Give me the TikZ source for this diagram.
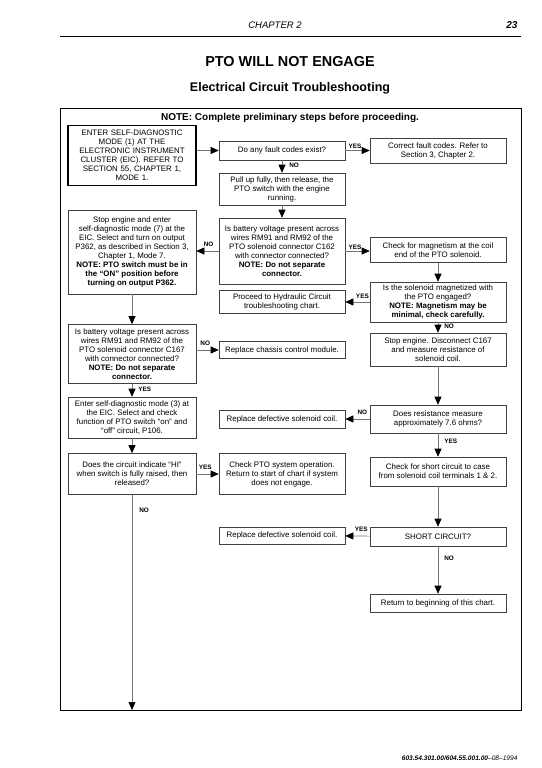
\documentclass[tikz,border=0pt]{standalone}
\usepackage{fontspec}
\setmainfont{Liberation Sans}
\usetikzlibrary{arrows.meta}
\begin{document}
\begin{tikzpicture}[x=1pt,y=-1pt,
  box/.style={draw=black!75, line width=0.6pt, align=center, inner sep=1pt, font=\fontsize{7.9}{9.0}\selectfont},
  thickbox/.style={box, draw=black, line width=1.1pt},
  arr/.style={draw=black!55, line width=0.6pt, -{Triangle[length=8pt,width=7pt,color=black]}},
  lbl/.style={font=\bfseries\fontsize{6.4}{7}\selectfont, inner sep=1pt},
]
\useasboundingbox (0,0) rectangle (541,768);
% header
\node[font=\itshape\fontsize{9.5}{11}\selectfont] (chap) at (275,25) {CHAPTER 2};
\node[font=\bfseries\itshape\fontsize{10}{11}\selectfont, anchor=east] (pg) at (521,25) {23};
\coordinate (rl) at (60,36);
\coordinate (rr) at (521,36);
\draw[line width=0.8pt] (rl) -- (rr);
\node[font=\bfseries\fontsize{14.4}{16}\selectfont] (t1) at (290,62) {PTO WILL NOT ENGAGE};
\node[font=\bfseries\fontsize{12.5}{14}\selectfont] (t2) at (290,88) {Electrical Circuit Troubleshooting};
% frame
\draw[line width=1pt] (60,108) rectangle (521,710);
\node[font=\bfseries\fontsize{10}{12}\selectfont] (note) at (290,117.5) {NOTE: Complete preliminary steps before proceeding.};
% boxes
\node[thickbox, minimum width=128pt, minimum height=60pt, text width=124pt] (b1) at (132,155.5) {ENTER SELF-DIAGNOSTIC\\MODE (1) AT THE\\ELECTRONIC INSTRUMENT\\CLUSTER (EIC). REFER TO\\SECTION 55, CHAPTER 1,\\MODE 1.};
\node[box, minimum width=126pt, minimum height=19pt] (b2) at (282,150.5) {Do any fault codes exist?};
\node[box, minimum width=136pt, minimum height=25pt] (b3) at (438,150.5) {Correct fault codes. Refer to\\Section 3, Chapter 2.};
\node[box, minimum width=126pt, minimum height=32pt] (b4) at (282,189) {Pull up fully, then release, the\\PTO switch with the engine\\running.};
\node[box, minimum width=126pt, minimum height=66pt] (b5) at (282,251) {Is battery voltage present across\\wires RM91 and RM92 of the\\PTO solenoid connector C162\\with connector connected?\\\textbf{NOTE: Do not separate}\\\textbf{connector.}};
\node[box, minimum width=128pt, minimum height=84pt] (b6) at (132,252) {Stop engine and enter\\self-diagnostic mode (7) at the\\EIC. Select and turn on output\\P362, as described in Section 3,\\Chapter 1, Mode 7.\\\textbf{NOTE: PTO switch must be in}\\\textbf{the ``ON'' position before}\\\textbf{turning on output P362.}};
\node[box, minimum width=136pt, minimum height=25pt] (b7) at (438,250) {Check for magnetism at the coil\\end of the PTO solenoid.};
\node[box, minimum width=126pt, minimum height=23pt] (b8) at (282,302) {Proceed to Hydraulic Circuit\\troubleshooting chart.};
\node[box, minimum width=136pt, minimum height=40pt] (b9) at (438,302) {Is the solenoid magnetized with\\the PTO engaged?\\\textbf{NOTE: Magnetism may be}\\\textbf{minimal, check carefully.}};
\node[box, minimum width=128pt, minimum height=59pt] (b10) at (132,354) {Is battery voltage present across\\wires RM91 and RM92 of the\\PTO solenoid connector C167\\with connector connected?\\\textbf{NOTE: Do not separate}\\\textbf{connector.}};
\node[box, minimum width=126pt, minimum height=17pt] (b11) at (282,350) {Replace chassis control module.};
\node[box, minimum width=136pt, minimum height=33pt] (b12) at (438,349.5) {Stop engine. Disconnect C167\\and measure resistance of\\solenoid coil.};
\node[box, minimum width=128pt, minimum height=41pt] (b13) at (132,417.5) {Enter self-diagnostic mode (3) at\\the EIC. Select and check\\function of PTO switch ``on'' and\\``off'' circuit, P106.};
\node[box, minimum width=126pt, minimum height=18pt] (b14) at (282,419) {Replace defective solenoid coil.};
\node[box, minimum width=136pt, minimum height=28pt] (b15) at (438,419) {Does resistance measure\\approximately 7.6 ohms?};
\node[box, minimum width=128pt, minimum height=41pt] (b16) at (132,474) {Does the circuit indicate ``HI''\\when switch is fully raised, then\\released?};
\node[box, minimum width=126pt, minimum height=41pt] (b17) at (282,474) {Check PTO system operation.\\Return to start of chart if system\\does not engage.};
\node[box, minimum width=136pt, minimum height=29pt] (b18) at (438,471.5) {Check for short circuit to case\\from solenoid coil terminals 1 \& 2.};
\node[box, minimum width=126pt, minimum height=17pt] (b19) at (282,535.5) {Replace defective solenoid coil.};
\node[box, minimum width=136pt, minimum height=19pt] (b20) at (438,536.5) {SHORT CIRCUIT?};
\node[box, minimum width=136pt, minimum height=18pt] (b21) at (438,603) {Return to beginning of this chart.};
\coordinate (bend) at (132,710);
% connectors
\draw[arr] (b1.east |- b2.west) -- (b2.west);
\draw[arr] (b2.east) -- node[lbl, above, pos=0.4, yshift=1pt] {YES} (b3.west |- b2.east);
\draw[arr] (b2) -- node[lbl, right, pos=0.4, xshift=6pt] {NO} (b4);
\draw[arr] (b4) -- (b5);
\draw[arr] (b5.west) -- node[lbl, above, pos=0.45, yshift=3pt] {NO} (b6.east |- b5.west);
\draw[arr] (b5.east) -- node[lbl, above, pos=0.4] {YES} (b7.west |- b5.east);
\draw[arr] (b7) -- (b9);
\draw[arr] (b9.west) -- node[lbl, above, pos=0.3, yshift=2pt] {YES} (b8.east |- b9.west);
\draw[arr] (b9) -- node[lbl, right, pos=0.4, xshift=5pt] {NO} (b12);
\draw[arr] (b6) -- (b10);
\draw[arr] (b10.east |- b11.west) -- node[lbl, above, pos=0.4, yshift=3pt] {NO} (b11.west);
\draw[arr] (b10) -- node[lbl, right, pos=0.4, xshift=5pt] {YES} (b13);
\draw[arr] (b12) -- (b15);
\draw[arr] (b15.west) -- node[lbl, above, pos=0.3, yshift=3pt] {NO} (b14.east |- b15.west);
\draw[arr] (b15) -- node[lbl, right, pos=0.35, xshift=5pt] {YES} (b18);
\draw[arr] (b13) -- (b16);
\draw[arr] (b16) -- node[lbl, above, pos=0.4, yshift=3pt] {YES} (b17);
\draw[arr] (b16) -- node[lbl, right, pos=0.07, xshift=6pt] {NO} (bend);
\draw[arr] (b18) -- (b20);
\draw[arr] (b20) -- node[lbl, above, pos=0.35, yshift=3pt] {YES} (b19);
\draw[arr] (b20) -- node[lbl, right, pos=0.25, xshift=5pt] {NO} (b21);
% footer
\node[anchor=east, font=\fontsize{6.6}{8}\selectfont\itshape] (foot) at (521,758) {\textbf{603.54.301.00/604.55.001.00}--08--1994};
\end{tikzpicture}
\end{document}
